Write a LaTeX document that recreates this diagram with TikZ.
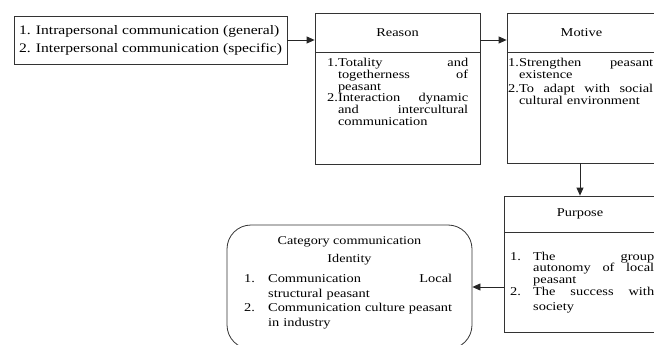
\documentclass[tikz,border=0pt]{standalone}
\usepackage{fontspec}
\setmainfont{Liberation Serif}[FakeStretch=1.2]
\usetikzlibrary{arrows.meta,positioning}

\newcommand{\inputfont}{\fontsize{13}{18}\selectfont}
\newcommand{\headfont}{\fontsize{11.8}{18}\selectfont}
\newcommand{\boxfont}{\fontsize{12}{11.8}\selectfont}
\newcommand{\catfont}{\fontsize{12}{14.5}\selectfont}
\newcommand{\jf}{\hskip 0pt plus 1filll\relax}

\begin{document}
\begin{tikzpicture}[x=1pt, y=-1pt,
  box/.style     ={draw=black!80, line width=0.8pt, inner sep=0pt},
  roundbox/.style={box, rounded corners=24pt},
  headbox/.style ={inner sep=0pt, font=\boxfont},
  listtext/.style={anchor=north west, inner sep=0pt, align=left, font=\boxfont},
  divider/.style ={draw=black!80, line width=0.8pt},
  arr/.style     ={-{Triangle[length=8pt,width=7pt]}, line width=0.8pt, draw=black!85}
]
\useasboundingbox (0,0) rectangle (654,345);

% Row 1: communication types
\node[box, minimum width=273pt, minimum height=48pt, align=left, font=\inputfont]
      (comm) at (150.5,40) {1. Intrapersonal communication (general)\\2. Interpersonal communication (specific)};

% Reason
\node[box, minimum width=165pt, minimum height=151pt] (reason) at (397.5,88.5) {};
\node[headbox, minimum width=165pt, minimum height=39pt, anchor=north] (reasonhead) at (reason.north) {Reason};
\draw[divider] (reasonhead.south west) -- (reasonhead.south east);
\node[listtext, text width=141pt] (reasonlist) at (327,58)
      {1.Totality\jf and\\ \phantom{1.}togetherness\jf of\\ \phantom{1.}peasant\\
       2.Interaction\jf dynamic\\ \phantom{1.}and\jf intercultural\\ \phantom{1.}communication};

% Motive
\node[box, minimum width=149pt, minimum height=150pt] (motive) at (581.5,88) {};
\node[headbox, minimum width=149pt, minimum height=39pt, anchor=north] (motivehead) at (motive.north) {Motive};
\draw[divider] (motivehead.south west) -- (motivehead.south east);
\node[listtext, text width=145pt, font=\fontsize{12}{12.3}\selectfont] (motivelist) at (508,58)
      {1.Strengthen\jf peasant\\ \phantom{1.}existence\\[1.5pt]
       2.To\jf adapt\jf with\jf social\\ \phantom{1.}cultural environment};

% Purpose
\node[box, minimum width=152pt, minimum height=136pt] (purpose) at (580,264) {};
\node[headbox, minimum width=152pt, minimum height=36pt, anchor=north] (purposehead) at (purpose.north) {Purpose};
\draw[divider] (purposehead.south west) -- (purposehead.south east);
\node[listtext, text width=144pt] (purposelist) at (510,251.5)
      {\makebox[23pt][l]{1.}The\jf group\\ \hspace*{23pt}autonomy\jf of\jf local\\ \hspace*{23pt}peasant\\
       \makebox[23pt][l]{2.}The\jf success\jf with\\[3pt] \hspace*{23pt}society};

% Category (rounded)
\node[roundbox, minimum width=245pt, minimum height=124pt] (category) at (349.5,287) {};
\node[headbox, anchor=north, align=center, font=\headfont] (categoryhead) at (349.5,236)
      {Category communication\\Identity};
\node[listtext, text width=208pt, font=\catfont] (categorylist) at (244,274)
      {\makebox[24pt][l]{1.}Communication\jf Local\\ \hspace*{24pt}structural peasant\\
       \makebox[24pt][l]{2.}Communication culture peasant\\ \hspace*{24pt}in industry};

% connectors
\draw[arr] (comm.east) -- (comm.east -| reason.west);
\draw[arr] (reason.east |- comm.east) -- (motive.west |- comm.east);
\draw[arr] (motive.south -| purpose.north) -- (purpose.north);
\draw[arr] (purpose.west |- category.east) -- (category.east);

\end{tikzpicture}
\end{document}
